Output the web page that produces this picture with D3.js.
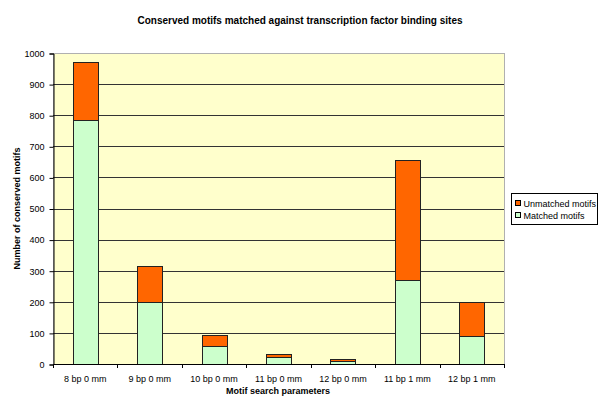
<!DOCTYPE html>
<html>
<head>
<meta charset="utf-8">
<script src="https://cdn.jsdelivr.net/npm/d3@7"></script>
<style>
  body { margin: 0; background: #fff; }
  text { font-family: "Liberation Sans", Arial, sans-serif; }
</style>
</head>
<body>
<div id="viz"></div>
<script>
const categories = ['8 bp 0 mm', '9 bp 0 mm', '10 bp 0 mm', '11 bp 0 mm', '12 bp 0 mm', '11 bp 1 mm', '12 bp 1 mm'];
const matched = [783, 200, 57, 22, 11, 269, 89];
const unmatched = [188, 115, 35, 11, 5, 388, 110];
const yTicks = [0, 100, 200, 300, 400, 500, 600, 700, 800, 900, 1000];

const w = 600;
const h = 410;
const plotLeft = 53, plotRight = 504, plotTop = 53, plotBottom = 364;

const svg = d3.select('#viz').
  append('svg').
  attr('width', w).
  attr('height', h);

svg.append('rect').attr('width', w).attr('height', h).attr('fill', '#fff');

const xScale = d3.scaleBand().
  domain(categories).
  range([plotLeft, plotRight]).
  paddingInner(0.61).
  paddingOuter(0.305);

const yScale = d3.scaleLinear().
  domain([0, 1000]).
  range([plotBottom, plotTop]);

// plot area
svg.append('rect').
  attr('x', plotLeft + 0.5).attr('y', plotTop + 0.5).
  attr('width', plotRight - plotLeft).attr('height', plotBottom - plotTop).
  attr('fill', '#FFFFCC').
  attr('stroke', '#b0b0b0').
  attr('stroke-width', 1);

// gridlines
svg.append('g').selectAll('line').
  data(yTicks.filter(d => d > 0 && d < 1000)).
  enter().append('line').
  attr('x1', plotLeft).attr('x2', plotRight).
  attr('y1', d => Math.round(yScale(d)) + 0.5).
  attr('y2', d => Math.round(yScale(d)) + 0.5).
  attr('stroke', '#333').
  attr('stroke-width', 1);

// stacked bars
const rows = categories.map((c, i) => ({ cat: c, matched: matched[i], unmatched: unmatched[i] }));
const stack = d3.stack().keys(['matched', 'unmatched'])(rows);
const colors = { matched: '#CCFFCC', unmatched: '#FF6600' };

svg.append('g').selectAll('g').
  data(stack).
  enter().append('g').
  attr('fill', d => colors[d.key]).
  selectAll('rect').
  data(d => d).
  enter().append('rect').
  attr('x', d => Math.round(xScale(d.data.cat)) + 0.5).
  attr('y', d => Math.round(yScale(d[1])) + 0.5).
  attr('width', Math.round(xScale.bandwidth())).
  attr('height', d => Math.round(yScale(d[0])) - Math.round(yScale(d[1]))).
  attr('stroke', '#222').
  attr('stroke-width', 1);

// y axis
const yAxis = d3.axisLeft(yScale).tickValues(yTicks).tickFormat(d3.format('d')).tickSize(4).tickPadding(5);
const gy = svg.append('g').
  attr('transform', 'translate(' + (plotLeft + 0.5) + ',0.5)').
  call(yAxis);
gy.selectAll('text').style('font-size', '9px').attr('fill', '#000');
gy.select('.domain').attr('stroke', '#000');

// x axis
const xAxis = d3.axisBottom(xScale).tickSize(0).tickPadding(11);
const gx = svg.append('g').
  attr('transform', 'translate(0,' + (plotBottom + 0.5) + ')').
  call(xAxis);
gx.select('.domain').remove();
gx.selectAll('text').style('font-size', '9px').attr('fill', '#000');
svg.append('line').
  attr('x1', plotLeft).attr('x2', plotRight).
  attr('y1', plotBottom + 0.5).attr('y2', plotBottom + 0.5).
  attr('stroke', '#000');
const step = xScale.step();
svg.append('g').selectAll('line').
  data(d3.range(categories.length + 1)).
  enter().append('line').
  attr('x1', d => Math.round(plotLeft + d * step) + 0.5).
  attr('x2', d => Math.round(plotLeft + d * step) + 0.5).
  attr('y1', plotBottom).attr('y2', plotBottom + 4).
  attr('stroke', '#000');

// title and axis labels
svg.append('text').
  text('Conserved motifs matched against transcription factor binding sites').
  attr('x', 300).attr('y', 24).
  attr('text-anchor', 'middle').
  style('font-size', '10px').
  style('font-weight', 'bold');

svg.append('text').
  text('Motif search parameters').
  attr('x', 278).attr('y', 394).
  attr('text-anchor', 'middle').
  style('font-size', '9px').
  style('font-weight', 'bold');

svg.append('text').
  text('Number of conserved motifs').
  attr('transform', 'rotate(-90)').
  attr('x', -(plotTop + plotBottom) / 2).
  attr('y', 20).
  attr('text-anchor', 'middle').
  style('font-size', '9px').
  style('font-weight', 'bold');

// legend
const legend = svg.append('g').attr('transform', 'translate(511.5,193.5)');
legend.append('rect').
  attr('width', 86).attr('height', 31).
  attr('fill', '#fff').attr('stroke', '#000');
const legendItems = [{ name: 'Unmatched motifs', key: 'unmatched' }, { name: 'Matched motifs', key: 'matched' }];
legendItems.forEach((d, i) => {
  legend.append('rect').
    attr('x', 4).attr('y', 7 + i * 12).
    attr('width', 5).attr('height', 5).
    attr('fill', colors[d.key]).attr('stroke', '#000');
  legend.append('text').
    text(d.name).
    attr('x', 12).attr('y', 13 + i * 12).
    style('font-size', '9px');
});
</script>
</body>
</html>
